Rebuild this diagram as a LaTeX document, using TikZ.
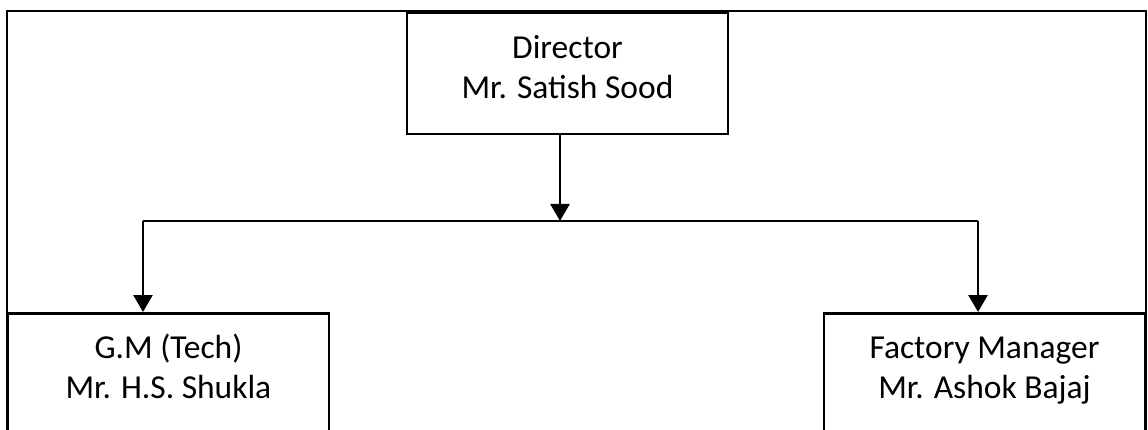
\documentclass[tikz,border=0pt]{standalone}
\usepackage{fontspec}
\setmainfont{Carlito}
\usetikzlibrary{arrows.meta,positioning,calc}

\begin{document}
\begin{tikzpicture}
    [x=1pt, y=-1pt, >={Triangle[width=19pt,length=17pt]},
    post/.style={rectangle, draw, line width=2.5pt, minimum width=321pt,
    inner sep=0pt, align=center, anchor=north,
    font=\fontsize{33.5}{40}\selectfont,
    text height=85pt, text depth=36pt},
    link/.style={line width=2.7pt}]

  \clip (0,0) rectangle (1148,430);
  \draw[line width=2pt] (7,440) |- (1146.3,10.7) -- (1146.3,440);

  \node[post] (dir) at (567.5,12) {Director\\Mr. Satish Sood};
  \node[post] (gm) at (168.5,312) {G.M (Tech)\\Mr. H.S. Shukla};
  \node[post] (fm) at (984.5,312) {Factory Manager\\Mr. Ashok Bajaj};

  \coordinate (split) at (560,221);
  \coordinate (left) at (143,221);
  \coordinate (right) at (978,221);

  \draw[link,->] (split |- dir.south) -- (split);
  \draw[link] (left) -- (right);
  \draw[link,->] (left) -- (left |- gm.north);
  \draw[link,->] (right) -- (right |- fm.north);

\end{tikzpicture}
\end{document}
